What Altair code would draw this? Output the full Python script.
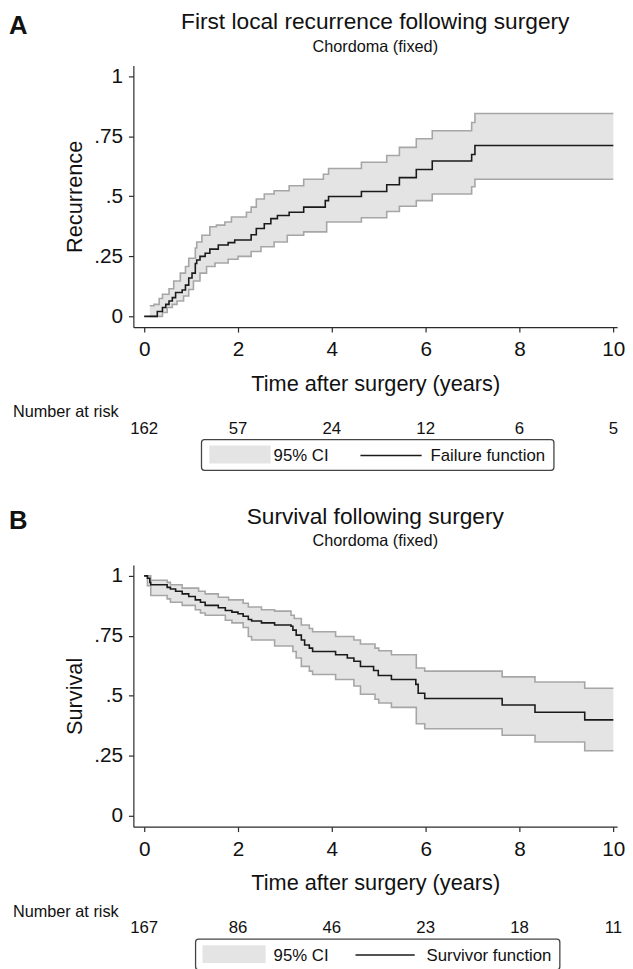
import altair as alt
import pandas as pd

FONT = "Liberation Sans"
T_END = 10

# ---------------- Panel A : first local recurrence (failure function) ----------------
a_time = [0, 0.28, 0.39, 0.46, 0.53, 0.60, 0.67, 0.81, 0.88, 0.95, 1.02, 1.09, 1.12, 1.19, 1.30,
          1.40, 1.58, 1.79, 1.93, 2.28, 2.39, 2.56, 2.70, 2.84, 3.09, 3.40, 3.86, 3.93, 4.63,
          5.17, 5.44, 5.80, 6.14, 6.98, 7.05]
a_fail = [0, 0.02, 0.037, 0.05, 0.064, 0.078, 0.099, 0.11, 0.13, 0.16, 0.18, 0.22, 0.235, 0.25,
          0.263, 0.28, 0.297, 0.307, 0.318, 0.34, 0.366, 0.386, 0.407, 0.42, 0.434, 0.455, 0.482,
          0.499, 0.52, 0.548, 0.578, 0.612, 0.647, 0.674, 0.712]
a_hi_time = [0.12, 0.21, 0.32, 0.39, 0.53, 0.63, 0.77, 0.88, 0.95, 1.09, 1.12, 1.23, 1.40, 1.54,
             1.72, 1.86, 2.18, 2.28, 2.39, 2.56, 2.77, 3.09, 3.40, 3.82, 3.93, 4.63, 5.17, 5.44,
             5.80, 6.14, 6.98, 7.05]
a_hi = [0.044, 0.05, 0.074, 0.092, 0.115, 0.147, 0.18, 0.208, 0.242, 0.285, 0.31, 0.338, 0.373,
        0.38, 0.393, 0.414, 0.434, 0.455, 0.489, 0.51, 0.523, 0.544, 0.571, 0.592, 0.616, 0.642,
        0.67, 0.704, 0.74, 0.773, 0.808, 0.845]
a_lo_time = [0.12, 0.39, 0.49, 0.60, 0.70, 0.84, 0.95, 1.05, 1.19, 1.33, 1.51, 1.79, 2.00, 2.28,
             2.49, 2.77, 3.05, 3.40, 3.89, 4.63, 5.17, 5.44, 5.80, 6.14, 6.98, 7.05]
a_lo = [0.0, 0.016, 0.037, 0.05, 0.064, 0.085, 0.112, 0.147, 0.18, 0.208, 0.222, 0.238, 0.25,
        0.27, 0.29, 0.31, 0.338, 0.352, 0.393, 0.411, 0.437, 0.459, 0.482, 0.51, 0.54, 0.571]
a_risk_time = [0, 2, 4, 6, 8, 10]
a_risk = [162, 57, 24, 12, 6, 5]

# ---------------- Panel B : survival (survivor function) ----------------
b_time = [0, 0.07, 0.12, 0.14, 0.49, 0.56, 0.67, 0.81, 0.95, 1.09, 1.20, 1.30, 1.58, 1.73, 1.87,
          2.00, 2.11, 2.22, 2.29, 2.50, 2.78, 3.13, 3.17, 3.24, 3.35, 3.42, 3.52, 3.59, 4.08,
          4.33, 4.47, 4.61, 4.89, 4.99, 5.27, 5.79, 5.84, 5.98, 7.63, 8.33, 9.39]
b_surv = [1.0, 0.99, 0.973, 0.963, 0.952, 0.945, 0.936, 0.925, 0.914, 0.90, 0.89, 0.877, 0.867,
          0.856, 0.849, 0.842, 0.832, 0.818, 0.812, 0.804, 0.795, 0.79, 0.774, 0.753, 0.733,
          0.712, 0.699, 0.685, 0.671, 0.658, 0.644, 0.622, 0.606, 0.585, 0.568, 0.548, 0.511,
          0.489, 0.462, 0.432, 0.40]
b_hi_time = [0, 0.14, 0.49, 0.56, 0.81, 1.16, 1.30, 1.58, 1.80, 2.11, 2.22, 2.50, 2.78, 3.13,
             3.20, 3.35, 3.52, 3.59, 4.08, 4.47, 4.61, 4.92, 5.00, 5.27, 5.80, 5.98, 7.63, 8.33,
             9.39]
b_hi = [1.0, 0.982, 0.973, 0.963, 0.949, 0.936, 0.925, 0.911, 0.90, 0.886, 0.87, 0.859, 0.853,
        0.836, 0.822, 0.795, 0.781, 0.767, 0.747, 0.733, 0.716, 0.699, 0.688, 0.671, 0.616,
        0.603, 0.579, 0.558, 0.532]
b_lo_time = [0, 0.07, 0.14, 0.49, 0.56, 0.81, 1.09, 1.20, 1.30, 1.73, 1.87, 2.11, 2.22, 2.29,
             2.78, 3.17, 3.24, 3.35, 3.52, 3.59, 4.08, 4.47, 4.61, 4.92, 5.00, 5.27, 5.80, 5.98,
             7.63, 8.33, 9.39]
b_lo = [1.0, 0.959, 0.918, 0.904, 0.89, 0.877, 0.859, 0.845, 0.836, 0.815, 0.804, 0.785, 0.747,
        0.733, 0.708, 0.685, 0.658, 0.623, 0.603, 0.589, 0.568, 0.541, 0.507, 0.486, 0.47,
        0.452, 0.384, 0.363, 0.336, 0.308, 0.271]
b_risk_time = [0, 2, 4, 6, 8, 10]
b_risk = [167, 86, 46, 23, 18, 11]

X_TICKS = [0, 2, 4, 6, 8, 10]
Y_TICKS = [0, 0.25, 0.5, 0.75, 1]

# ---------------- style ----------------
W, H = 490, 265
X_DOMAIN = [-0.23, 10.08]
Y_DOMAIN = [-0.045, 1.045]
CI_FILL = "#e4e4e4"
CI_EDGE = "#a6a6a6"
EST = "#1a1a1a"
AXIS = "#2a2a2a"
TXT = "#111111"


def step_df(times, vals):
    return pd.DataFrame({"t": list(times) + [T_END], "v": list(vals) + [vals[-1]]})


def band_df(hi_t, hi_v, lo_t, lo_v):
    idx = sorted(set(hi_t) | set(lo_t) | {T_END})
    hi = pd.Series(hi_v, index=hi_t).reindex(idx).ffill()
    lo = pd.Series(lo_v, index=lo_t).reindex(idx).ffill()
    return pd.DataFrame({"t": idx, "v": lo.values, "hi": hi.values}).dropna()


def edge_df(hi_t, hi_v, lo_t, lo_v):
    h = step_df(hi_t, hi_v).assign(bound="upper")
    l = step_df(lo_t, lo_v).assign(bound="lower")
    return pd.concat([h, l], ignore_index=True)


def text(s, x, y, size, weight="normal", align="left"):
    return alt.Chart(alt.Data(values=[{}])).mark_text(
        font=FONT, fontSize=size, fontWeight=weight, align=align,
        baseline="alphabetic", color=TXT
    ).encode(x=alt.value(x), y=alt.value(y), text=alt.value(s))


def panel(letter, title, ytitle, est_t, est_v, hi_t, hi_v, lo_t, lo_v,
          risk_t, risk_n, legend_label, box, head_dy=0):
    xs = alt.Scale(domain=X_DOMAIN, nice=False, zero=False)
    ys = alt.Scale(domain=Y_DOMAIN, nice=False, zero=False)
    xaxis = alt.Axis(values=X_TICKS, title="Time after surgery (years)",
                     titleY=64, titleBaseline="alphabetic")
    yaxis = alt.Axis(values=Y_TICKS, title=ytitle,
                     labelExpr="replace(toString(datum.value), '0.', '.')",
                     titleX=-60, titleY=H / 2, titleAngle=270,
                     titleAlign="center", titleBaseline="middle")
    X = alt.X("t:Q", scale=xs, axis=xaxis, title="Time after surgery (years)")
    Y = alt.Y("v:Q", scale=ys, axis=yaxis, title=ytitle)

    area = alt.Chart(band_df(hi_t, hi_v, lo_t, lo_v)).mark_area(
        interpolate="step-after", color=CI_FILL
    ).encode(x=X, y=Y, y2="hi:Q")
    edges = alt.Chart(edge_df(hi_t, hi_v, lo_t, lo_v)).mark_line(
        interpolate="step-after", color=CI_EDGE, strokeWidth=1.6
    ).encode(x=X, y=Y, detail="bound:N")
    est = alt.Chart(step_df(est_t, est_v)).mark_line(
        interpolate="step-after", color=EST, strokeWidth=1.6
    ).encode(x=X, y=Y)
    risk = alt.Chart(pd.DataFrame({"t": risk_t, "n": risk_n})).mark_text(
        font=FONT, fontSize=17, baseline="alphabetic", color=TXT
    ).encode(x=X, y=alt.value(373), text="n:N")

    bx0, bx1, sw0, sw1, ci_x, ln0, ln1, lab_x = box
    legend_box = alt.Chart(alt.Data(values=[{}])).mark_rect(
        filled=False, color="#444444", strokeWidth=1.3, cornerRadius=3
    ).encode(x=alt.value(bx0), x2=alt.value(bx1), y=alt.value(379), y2=alt.value(410))
    swatch = alt.Chart(alt.Data(values=[{}])).mark_rect(color=CI_FILL).encode(
        x=alt.value(sw0), x2=alt.value(sw1), y=alt.value(385), y2=alt.value(403))
    leg_line = alt.Chart(alt.Data(values=[{}])).mark_rule(color=EST, strokeWidth=1.5).encode(
        x=alt.value(ln0), x2=alt.value(ln1), y=alt.value(395))

    return alt.layer(
        area, edges, est, risk,
        text(letter, -126, -32 + head_dy, 26, weight="bold"),
        text(title, W / 2, -37 + head_dy, 23, align="center"),
        text("Chordoma (fixed)", W / 2, -14 + head_dy, 16.5, align="center"),
        text("Number at risk", -122, 356, 16.5),
        legend_box, swatch, leg_line,
        text("95% CI", ci_x, 401, 17),
        text(legend_label, lab_x, 401, 17),
    ).properties(width=W, height=H)


pA = panel("A", "First local recurrence following surgery", "Recurrence",
           a_time, a_fail, a_hi_time, a_hi, a_lo_time, a_lo, a_risk_time, a_risk,
           "Failure function", (69, 426, 77, 139, 142, 230, 292, 301))
pB = panel("B", "Survival following surgery", "Survival",
           b_time, b_surv, b_hi_time, b_hi, b_lo_time, b_lo, b_risk_time, b_risk,
           "Survivor function", (63, 432, 70, 134, 142, 225, 285, 297), head_dy=-5)

chart = alt.vconcat(pA, pB, spacing=241, bounds="flush").properties(
    padding={"left": 1, "top": -3, "right": 0, "bottom": 0}
).configure_view(stroke=None).configure_axis(
    grid=False, domainColor=AXIS, domainWidth=1.2, tickColor=AXIS, tickWidth=1.2,
    tickSize=5, labelFont=FONT, labelFontSize=21, labelColor=TXT, labelPadding=6,
    titleFont=FONT, titleFontSize=22, titleFontWeight="normal", titleColor=TXT,
).configure_axisX(labelPadding=7)

chart.save("out.html", embed_options={"renderer": "svg", "actions": False})
